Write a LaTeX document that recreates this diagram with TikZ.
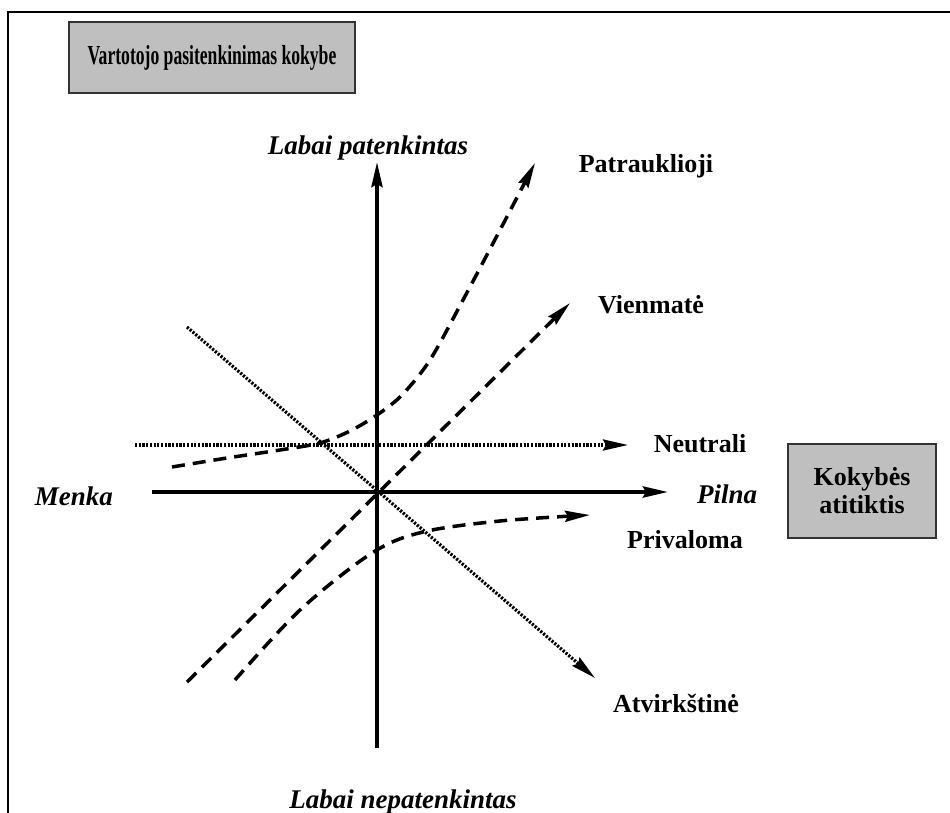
\documentclass[tikz,border=0pt]{standalone}
\usepackage{fontspec}
\setmainfont{Liberation Serif}
\usetikzlibrary{arrows.meta}
\begin{document}
\begin{tikzpicture}[x=1pt,y=-1pt,
  tip/.style={-{Stealth[length=25pt,width=11pt,inset=3pt]}},
  axisline/.style={tip,line width=4pt},
  dashline/.style={tip,line width=3.5pt,dash pattern=on 13pt off 8pt},
  dotline/.style={tip,line width=3.2pt,dash pattern=on 2.2pt off 1.5pt},
  lbl/.style={font=\bfseries\fontsize{26}{28}\selectfont,inner sep=0pt,anchor=base},
  ilbl/.style={font=\bfseries\itshape\fontsize{27}{29}\selectfont,inner sep=0pt,anchor=base},
  graybox/.style={draw=black!80,line width=2pt,fill=black!25,inner sep=0pt},
  frame/.style={line width=2pt}]
\useasboundingbox (0,0) rectangle (950,813);
% outer frame (continues past the picture edges)
\coordinate (fBL) at (8,813);
\coordinate (fTL) at (8,12);
\coordinate (fTR) at (950,12);
\draw[frame] (fBL) -- (fTL) -- (fTR);
% title box
\node[graybox,minimum width=286pt,minimum height=71pt] (title) at (212,57.5)
      {\raisebox{3pt}{\scalebox{0.64}[1]{\bfseries\fontsize{27.5}{30}\selectfont Vartotojo pasitenkinimas kokybe}}};
% right box
\node[graybox,minimum width=148pt,minimum height=94pt,align=center,
      font=\bfseries\fontsize{26}{28}\selectfont] (kbox) at (862,491)
      {Kokybės\\atitiktis};
% coordinates
\coordinate (O) at (377,492);
\coordinate (vB) at (377,748);
\coordinate (vT) at (377,162);
\coordinate (hL) at (152,492);
\coordinate (hR) at (668,492);
\coordinate (nL) at (135,445);
\coordinate (nR) at (628,445);
\coordinate (aS) at (187,327);
\coordinate (aE) at (595,678);
\coordinate (viS) at (187,682);
\coordinate (viE) at (570,303);
% axes
\draw[axisline] (vB) -- (vT);
\draw[axisline] (hL) -- (hR);
% neutral and reverse (dotted)
\draw[dotline] (nL) -- (nR);
\draw[dotline] (aS) -- (aE);
% one-dimensional (dashed straight)
\draw[dashline] (viS) -- (viE);
% attractive (dashed curve)
\draw[dashline] plot[smooth,tension=0.5] coordinates
  {(172,467) (227,458) (280,450) (320,443) (350,431) (377,415) (402,395) (430,360) (463,300) (500,230) (535,163)};
% must-be (dashed curve)
\draw[dashline] plot[smooth,tension=0.55] coordinates
  {(235,680) (300,610) (372,553) (423,532) (500,521) (590,515)};
% labels
\node[ilbl] (lTop) at (368,155) {Labai patenkintas};
\node[ilbl] (lBot) at (403,808) {Labai nepatenkintas};
\node[ilbl] (lMenka) at (74,505) {Menka};
\node[ilbl,anchor=base west] (lPilna) at (697,503) {Pilna};
\node[lbl] (lPat) at (646,173) {Patrauklioji};
\node[lbl] (lVien) at (651,313) {Vienmatė};
\node[lbl] (lNeut) at (700,452) {Neutrali};
\node[lbl] (lPriv) at (685,548) {Privaloma};
\node[lbl] (lAtv) at (676,712) {Atvirkštinė};
\end{tikzpicture}
\end{document}
